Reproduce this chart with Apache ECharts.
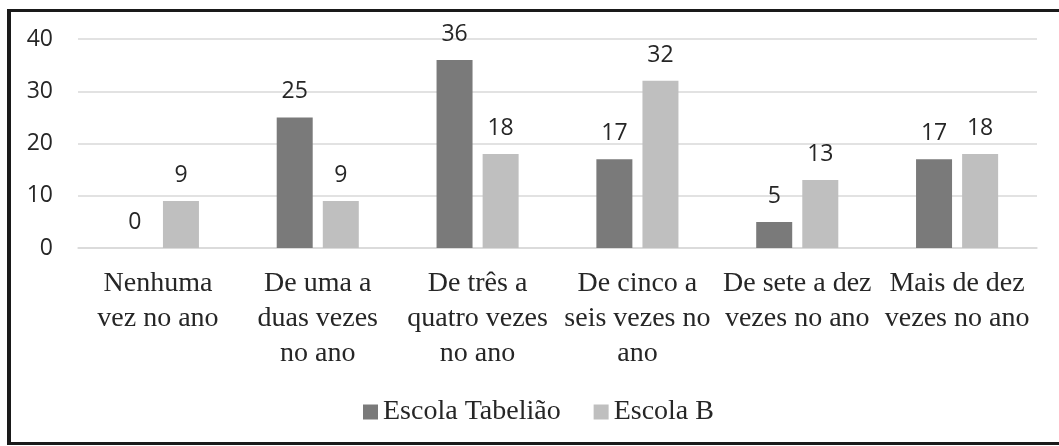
<!DOCTYPE html>
<html>
<head>
<meta charset="utf-8">
<script src="https://cdn.jsdelivr.net/npm/echarts@6/dist/echarts.min.js"></script>
<style>
  html, body { margin: 0; padding: 0; background: #fff; overflow: hidden; }
  #chart { width: 1059px; height: 446px; position: absolute; left: 0; top: 0; }
  #frame {
    position: absolute; left: 7px; top: 9px; width: 1120px; height: 436px;
    box-sizing: border-box; border: 3px solid #1a1a1a; border-left-width: 4px;
    pointer-events: none;
  }
</style>
</head>
<body>
<div id="chart"></div>
<div id="frame"></div>
<script>
// categorias (eixo x)
const categories = [
  'Nenhuma\nvez no ano',
  'De uma a\nduas vezes\nno ano',
  'De três a\nquatro vezes\nno ano',
  'De cinco a\nseis vezes no\nano',
  'De sete a dez\nvezes no ano',
  'Mais de dez\nvezes no ano'
]
const escolaTabeliao = [0, 25, 36, 17, 5, 17]
const escolaB = [9, 9, 18, 32, 13, 18]
const yTicks = { min: 0, max: 40, interval: 10 }

const labelFont = 'Open Sans'
const serifFont = 'Liberation Serif'

const myChart = echarts.init(document.getElementById('chart'))
const option = {
  backgroundColor: '#fff',
  animation: false,
  grid: {
    left: 78,
    right: 22,
    top: 39,
    bottom: 198
  },
  legend: {
    left: 358,
    top: 393,
    icon: 'rect',
    itemWidth: 15,
    itemHeight: 15,
    itemGap: 33,
    textStyle: {
      fontFamily: serifFont,
      fontSize: 28,
      color: '#262626'
    },
    data: ['Escola Tabelião', 'Escola B']
  },
  xAxis: {
    type: 'category',
    data: categories,
    axisLine: { show: true, lineStyle: { color: '#d9d9d9', width: 1.5 } },
    axisTick: { show: false },
    axisLabel: {
      interval: 0,
      margin: 18,
      fontFamily: serifFont,
      fontSize: 28,
      lineHeight: 35,
      color: '#262626'
    }
  },
  yAxis: {
    type: 'value',
    min: yTicks.min,
    max: yTicks.max,
    interval: yTicks.interval,
    axisLine: { show: false },
    axisTick: { show: false },
    splitLine: { lineStyle: { color: '#d9d9d9', width: 1.5 } },
    axisLabel: {
      margin: 25,
      fontFamily: labelFont,
      fontSize: 23,
      color: '#262626'
    }
  },
  series: [
    {
      name: 'Escola Tabelião',
      type: 'bar',
      barWidth: 36,
      barGap: '28%',
      itemStyle: { color: '#7a7a7a' },
      label: {
        show: true,
        position: 'top',
        distance: 14,
        fontFamily: labelFont,
        fontSize: 23,
        color: '#262626'
      },
      data: escolaTabeliao
    },
    {
      name: 'Escola B',
      type: 'bar',
      barWidth: 36,
      barGap: '28%',
      itemStyle: { color: '#bfbfbf' },
      label: {
        show: true,
        position: 'top',
        distance: 14,
        fontFamily: labelFont,
        fontSize: 23,
        color: '#262626'
      },
      data: escolaB
    }
  ]
}
myChart.setOption(option)
</script>
</body>
</html>
